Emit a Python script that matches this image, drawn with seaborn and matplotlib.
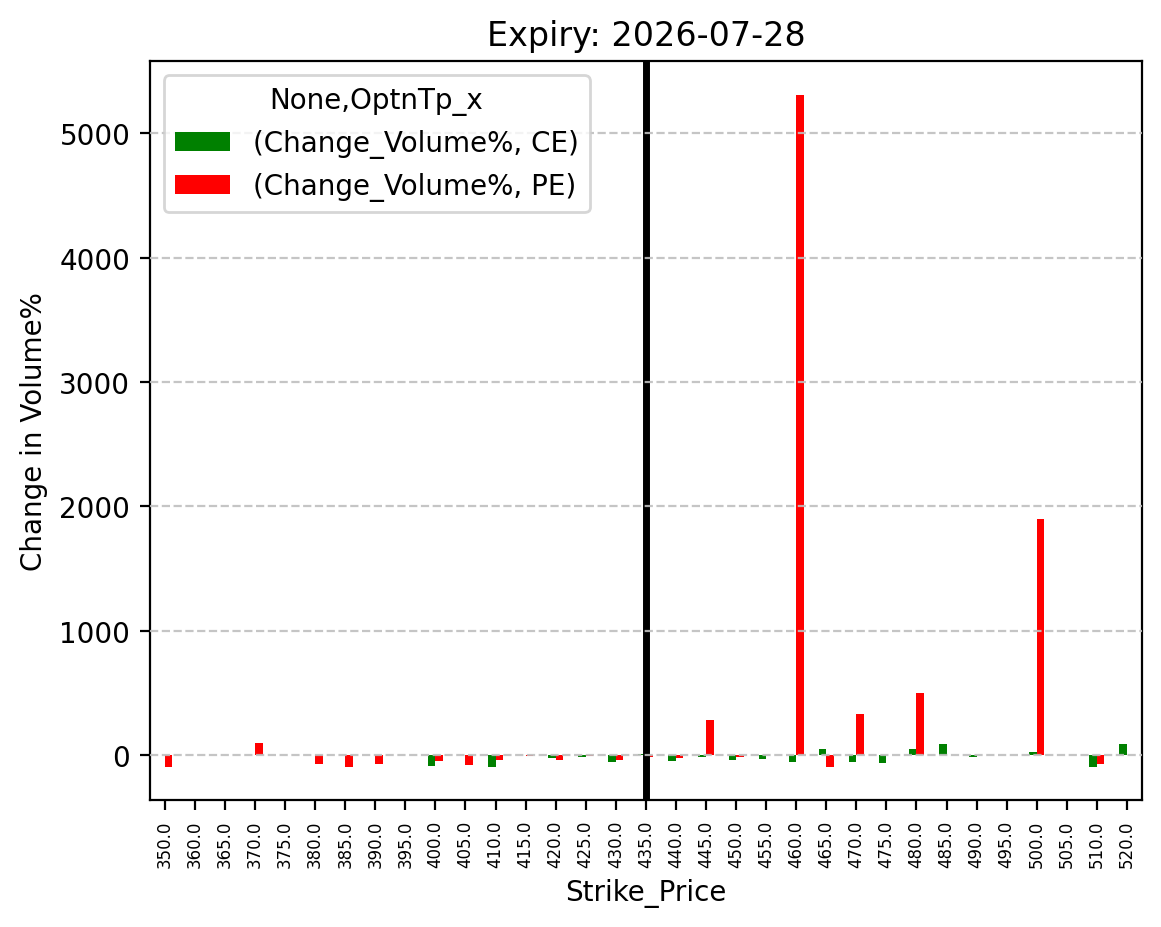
import numpy as np
import pandas as pd
import seaborn as sns
import matplotlib
matplotlib.use('Agg')
import matplotlib.pyplot as plt

# strike prices and % change in volume per option type (NaN = no bar)
strikes = [350.0, 360.0, 365.0, 370.0, 375.0, 380.0, 385.0, 390.0, 395.0, 400.0,
           405.0, 410.0, 415.0, 420.0, 425.0, 430.0, 435.0, 440.0, 445.0, 450.0,
           455.0, 460.0, 465.0, 470.0, 475.0, 480.0, 485.0, 490.0, 495.0, 500.0,
           505.0, 510.0, 520.0]
ce_change = [np.nan, np.nan, np.nan, np.nan, np.nan, np.nan, np.nan, np.nan, np.nan, -86,
             np.nan, -94, -2, -22, -13, -54, 5, -48, -13, -40,
             -32, -54, 51, -54, -62, 51, 91, -13, np.nan, 27,
             np.nan, -94, 91]
pe_change = [-94, np.nan, np.nan, 94, np.nan, -70, -94, -70, np.nan, -46,
             -78, -40, -8, -40, -5, -40, -13, -22, 285, -13,
             np.nan, 5310, -94, 330, np.nan, 500, np.nan, np.nan, np.nan, 1900,
             np.nan, -70, np.nan]
expiry = '2026-07-28'
spot_strike = '435.0'

labels = [str(s) for s in strikes]
df = pd.DataFrame({
    'Strike_Price': labels * 2,
    'Change': ce_change + pe_change,
    'Type': ['(Change_Volume%, CE)'] * len(labels) + ['(Change_Volume%, PE)'] * len(labels),
})

fig = plt.figure(figsize=(5.805, 4.64), dpi=200)
ax = fig.add_axes([0.129, 0.1365, 0.8546, 0.7965])

sns.barplot(data=df, x='Strike_Price', y='Change', hue='Type', order=labels,
            hue_order=['(Change_Volume%, CE)', '(Change_Volume%, PE)'],
            palette=['green', 'red'], width=0.5, gap=0, errorbar=None,
            saturation=1, ax=ax)

ax.axvline(labels.index(spot_strike), color='black', linewidth=2.5)
ax.yaxis.grid(True, linestyle='--', color='#bfbfbf', alpha=0.9)
ax.set_axisbelow(False)

ax.set_xlim(-0.5, len(labels) - 0.5)
ax.tick_params(axis='x', labelrotation=90, labelsize=6)
ax.set_xlabel('Strike_Price')
ax.set_ylabel('Change in Volume%')
ax.set_title('Expiry: ' + expiry)

ax.legend(title='None,OptnTp_x', loc='upper left')

fig.savefig('out.png', dpi=200)
